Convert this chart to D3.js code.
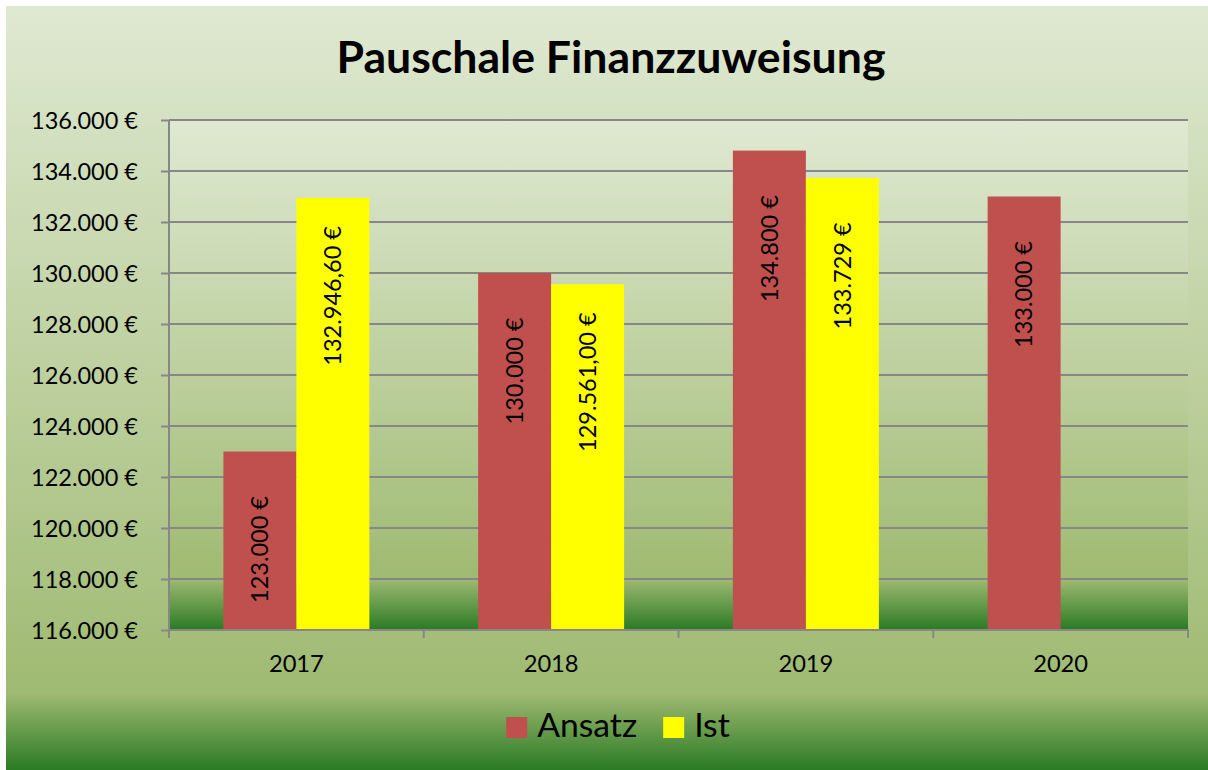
<!DOCTYPE html>
<html><head><meta charset="utf-8">
<script src="https://cdn.jsdelivr.net/npm/d3@7"></script>
<style>body{margin:0;background:#fff}text{font-family:Lato,"Open Sans",sans-serif;fill:#000}</style>
</head><body>
<svg id="c" width="1208" height="770"></svg>
<script>
// ---- data ----
const years = ["2017", "2018", "2019", "2020"];
const seriesNames = ["Ansatz", "Ist"];
const ansatz = [123000, 130000, 134800, 133000];
const ist = [132946.60, 129561.00, 133729, null];
const ansatzLabels = ["123.000 €", "130.000 €", "134.800 €", "133.000 €"];
const istLabels = ["132.946,60 €", "129.561,00 €", "133.729 €", null];
const yTicks = [116000, 118000, 120000, 122000, 124000, 126000, 128000, 130000, 132000, 134000, 136000];
const title = "Pauschale Finanzzuweisung";
const colors = ["#C0504D", "#FFFF00"];

// ---- layout ----
const svg = d3.select("#c");
const plot = {left: 169, right: 1188, top: 120, bottom: 630};
const de = d3.formatLocale({decimal: ",", thousands: ".", grouping: [3], currency: ["", " €"]});
const fmt = de.format("$,.0f");

function fit(sel, target) {
  sel.style("font-size", "20px");
  const w = sel.node().getComputedTextLength();
  const fs = 20 * target / w;
  sel.style("font-size", fs + "px");
  return fs;
}
function measure(fs, str, weight) {
  const t = svg.append("text").style("font-size", fs + "px").style("font-weight", weight || "normal").text(str);
  const w = t.node().getComputedTextLength(); t.remove(); return w;
}

const defs = svg.append("defs");
function grad(id) {
  const g = defs.append("linearGradient").attr("id", id).attr("x1", 0).attr("y1", 0).attr("x2", 0).attr("y2", 1);
  g.append("stop").attr("offset", 0).attr("stop-color", "#dfe9d2");
  g.append("stop").attr("offset", 0.5).attr("stop-color", "#bccf9d");
  g.append("stop").attr("offset", 0.9).attr("stop-color", "#9fba72");
  g.append("stop").attr("offset", 1).attr("stop-color", "#2a7a24");
}
grad("bgGrad"); grad("plotGrad");

svg.append("rect").attr("x", 6).attr("y", 6).attr("width", 1202).attr("height", 764).attr("fill", "url(#bgGrad)");
svg.append("rect").attr("x", plot.left).attr("y", plot.top)
  .attr("width", plot.right - plot.left).attr("height", plot.bottom - plot.top).attr("fill", "url(#plotGrad)");

// scales
const y = d3.scaleLinear().domain([116000, 136000]).range([plot.bottom, plot.top]);
const x0 = d3.scaleBand().domain(years).range([plot.left, plot.right]).paddingInner(0).paddingOuter(0);
const x1 = d3.scaleBand().domain(seriesNames).range([0, x0.bandwidth()]).paddingInner(0).paddingOuter(0.745);

// gridlines
svg.append("g").selectAll("line").data(yTicks).join("line")
  .attr("x1", plot.left).attr("x2", plot.right).attr("y1", d => y(d)).attr("y2", d => y(d))
  .attr("stroke", "#878787").attr("stroke-width", 2);

// bars
const seriesData = [ansatz, ist];
const labelData = [ansatzLabels, istLabels];
seriesNames.forEach((s, si) => {
  const data = years.map((yr, i) => ({yr, v: seriesData[si][i], lab: labelData[si][i]})).filter(d => d.v != null);
  svg.append("g").selectAll("rect").data(data).join("rect")
    .attr("x", d => x0(d.yr) + x1(s)).attr("width", x1.bandwidth())
    .attr("y", d => y(d.v)).attr("height", d => y(116000) - y(d.v))
    .attr("fill", colors[si]);
});

// y axis
const yAxis = svg.append("g").attr("transform", `translate(${plot.left},0)`)
  .call(d3.axisLeft(y).tickValues(yTicks).tickSize(8).tickFormat(fmt));
yAxis.select(".domain").attr("stroke", "#878787").attr("stroke-width", 2).attr("d", `M0,${plot.top}V${plot.bottom}`);
yAxis.selectAll(".tick line").attr("stroke", "#878787").attr("stroke-width", 2);
const probe = svg.append("text").text("136.000 €");
const tickFs = fit(probe, 107); probe.remove();
yAxis.selectAll(".tick text").attr("x", -31).attr("dy", null).attr("y", tickFs * 0.36)
  .style("font-size", tickFs + "px").style("font-family", "Lato, sans-serif").attr("fill", "#000");

// x axis
const xAxis = svg.append("g").attr("transform", `translate(0,${plot.bottom})`);
xAxis.append("line").attr("x1", plot.left - 1).attr("x2", plot.right + 1).attr("stroke", "#878787").attr("stroke-width", 2);
const bounds = years.map(d => x0(d)).concat([plot.right]);
xAxis.selectAll(".tk").data(bounds).join("line").attr("class", "tk")
  .attr("x1", d => d).attr("x2", d => d).attr("y1", 0).attr("y2", 8)
  .attr("stroke", "#878787").attr("stroke-width", 2);
const p2 = svg.append("text").text("2017");
const catFs = fit(p2, 55); p2.remove();
xAxis.selectAll(".cat").data(years).join("text").attr("class", "cat")
  .attr("x", d => x0(d) + x0.bandwidth() / 2).attr("y", 42)
  .attr("text-anchor", "middle").style("font-size", catFs + "px").text(d => d);

// data labels
seriesNames.forEach((s, si) => {
  const data = years.map((yr, i) => ({yr, v: seriesData[si][i], lab: labelData[si][i]})).filter(d => d.v != null);
  svg.append("g").selectAll("text").data(data).join("text")
    .attr("transform", d => `translate(${x0(d.yr) + x1(s) + x1.bandwidth() / 2},${y(d.v) + 98}) rotate(-90)`)
    .attr("text-anchor", "middle").attr("dy", "0.35em")
    .style("font-size", tickFs + "px").text(d => d.lab);
});

// title
const t = svg.append("text").attr("x", 611).attr("y", 73).attr("text-anchor", "middle")
  .style("font-weight", "bold").text(title);
fit(t, 549);

// legend
const p3 = svg.append("text").text("Ansatz");
const legFs = fit(p3, 100); p3.remove();
const sq = 21, gapT = 10, gapItem = 26;
const widths = seriesNames.map(n => measure(legFs, n));
const total = widths.reduce((a, w) => a + sq + gapT + w, 0) + gapItem * (seriesNames.length - 1);
let lx = 618 - total / 2;
const leg = svg.append("g");
seriesNames.forEach((n, i) => {
  leg.append("rect").attr("x", lx).attr("y", 717).attr("width", sq).attr("height", sq).attr("fill", colors[i]);
  leg.append("text").attr("x", lx + sq + gapT).attr("y", 737).style("font-size", legFs + "px").text(n);
  lx += sq + gapT + widths[i] + gapItem;
});
</script>
</body></html>
